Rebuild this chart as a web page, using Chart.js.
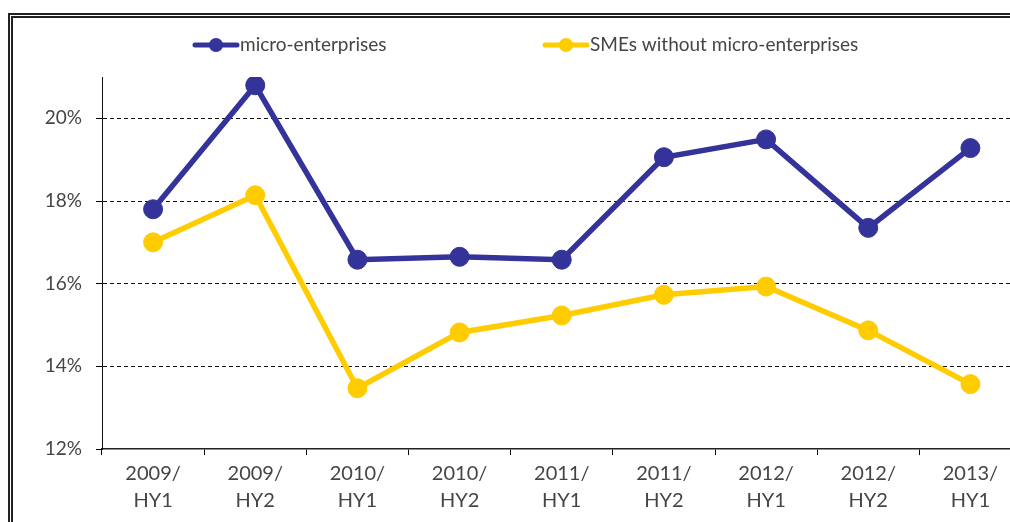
<!DOCTYPE html>
<html>
<head>
<meta charset="utf-8">
<script src="https://cdn.jsdelivr.net/npm/chart.js@4"></script>
<style>
  html, body { margin: 0; padding: 0; background: #fff; overflow: hidden; width: 1010px; height: 522px; }
  #frame { position: absolute; left: 8px; top: 13px; width: 1100px; height: 600px; border: 5px double #222; box-sizing: border-box; }
  #myChart { position: absolute; left: 0; top: 0; }
</style>
</head>
<body>
<div id="frame"></div>
<canvas id="myChart" width="1032" height="522"></canvas>
<script>
const categorias = [
    ["2009/", "HY1"], ["2009/", "HY2"], ["2010/", "HY1"], ["2010/", "HY2"], ["2011/", "HY1"],
    ["2011/", "HY2"], ["2012/", "HY1"], ["2012/", "HY2"], ["2013/", "HY1"]
];
const microEmpresas = [17.8, 20.8, 16.58, 16.65, 16.58, 19.06, 19.49, 17.35, 19.28];
const pymesSinMicro = [17.0, 18.14, 13.47, 14.82, 15.23, 15.73, 15.93, 14.87, 13.57];
const nombresSeries = ["micro-enterprises", "SMEs without micro-enterprises"];
const coloresSeries = ["#333399", "#ffcc00"];
const ticksY = [12, 14, 16, 18, 20];

const fuente = "Lato, 'DejaVu Sans', sans-serif";
const colorTexto = "#454545";

// leyenda dibujada a mano: linea con circulo al medio
const leyendaPlugin = {
    id: "leyendaManual",
    afterDraw(chart) {
        const ctx = chart.ctx;
        const posiciones = [193, 543];
        const y = 45;
        ctx.save();
        ctx.font = "19px " + fuente;
        ctx.textBaseline = "middle";
        chart.data.datasets.forEach((ds, i) => {
            const x = posiciones[i];
            ctx.strokeStyle = ds.borderColor;
            ctx.lineWidth = 5;
            ctx.lineCap = "round";
            ctx.beginPath();
            ctx.moveTo(x + 2, y);
            ctx.lineTo(x + 44, y);
            ctx.stroke();
            ctx.fillStyle = ds.borderColor;
            ctx.beginPath();
            ctx.arc(x + 23, y, 7, 0, Math.PI * 2);
            ctx.fill();
            ctx.fillStyle = colorTexto;
            ctx.textAlign = "left";
            ctx.fillText(ds.label, x + 47, y);
        });
        ctx.restore();
    }
};

const data = {
    labels: categorias,
    datasets: [
        {
            label: nombresSeries[0],
            data: microEmpresas,
            borderColor: coloresSeries[0],
            backgroundColor: coloresSeries[0],
            borderWidth: 5.5,
            pointRadius: 9.5,
            pointBorderWidth: 1,
            pointBackgroundColor: coloresSeries[0],
            tension: 0,
        },
        {
            label: nombresSeries[1],
            data: pymesSinMicro,
            borderColor: coloresSeries[1],
            backgroundColor: coloresSeries[1],
            borderWidth: 5.5,
            pointRadius: 9.5,
            pointBorderWidth: 1,
            pointBackgroundColor: coloresSeries[1],
            tension: 0,
        },
    ],
};

const config = {
    type: "line",
    data: data,
    plugins: [leyendaPlugin],
    options: {
        responsive: false,
        animation: false,
        layout: { padding: { top: 77, left: 0, right: 0, bottom: 0 } },
        plugins: {
            legend: { display: false },
            tooltip: { enabled: false },
        },
        scales: {
            x: {
                offset: true,
                grid: {
                    offset: true,
                    drawOnChartArea: false,
                    drawTicks: true,
                    tickLength: 6,
                    tickColor: "#000",
                    tickWidth: 1,
                },
                border: { display: true, color: "#222", width: 1.5 },
                ticks: {
                    color: colorTexto,
                    font: { family: fuente, size: 20, lineHeight: 1.35 },
                    padding: 5,
                    maxRotation: 0,
                    autoSkip: false,
                },
                afterFit(scale) { scale.height = 73; },
            },
            y: {
                min: 12,
                max: 21,
                afterBuildTicks(scale) {
                    scale.ticks = ticksY.map((v) => ({ value: v }));
                },
                grid: {
                    color: (c) => (c.tick && c.tick.value === 12 ? "rgba(0,0,0,0)" : "#111"),
                    lineWidth: 1,
                    drawTicks: true,
                    tickLength: 6,
                    tickColor: "#000",
                },
                border: { display: true, color: "#111", width: 1, dash: [4, 3] },
                ticks: {
                    color: colorTexto,
                    font: { family: fuente, size: 19 },
                    padding: 14,
                    callback: (v) => v + "%",
                },
                afterFit(scale) { scale.width = 102; },
            },
        },
    },
};

const grapharea = document.getElementById("myChart").getContext("2d");
const myChart = new Chart(grapharea, config);
</script>
</body>
</html>
